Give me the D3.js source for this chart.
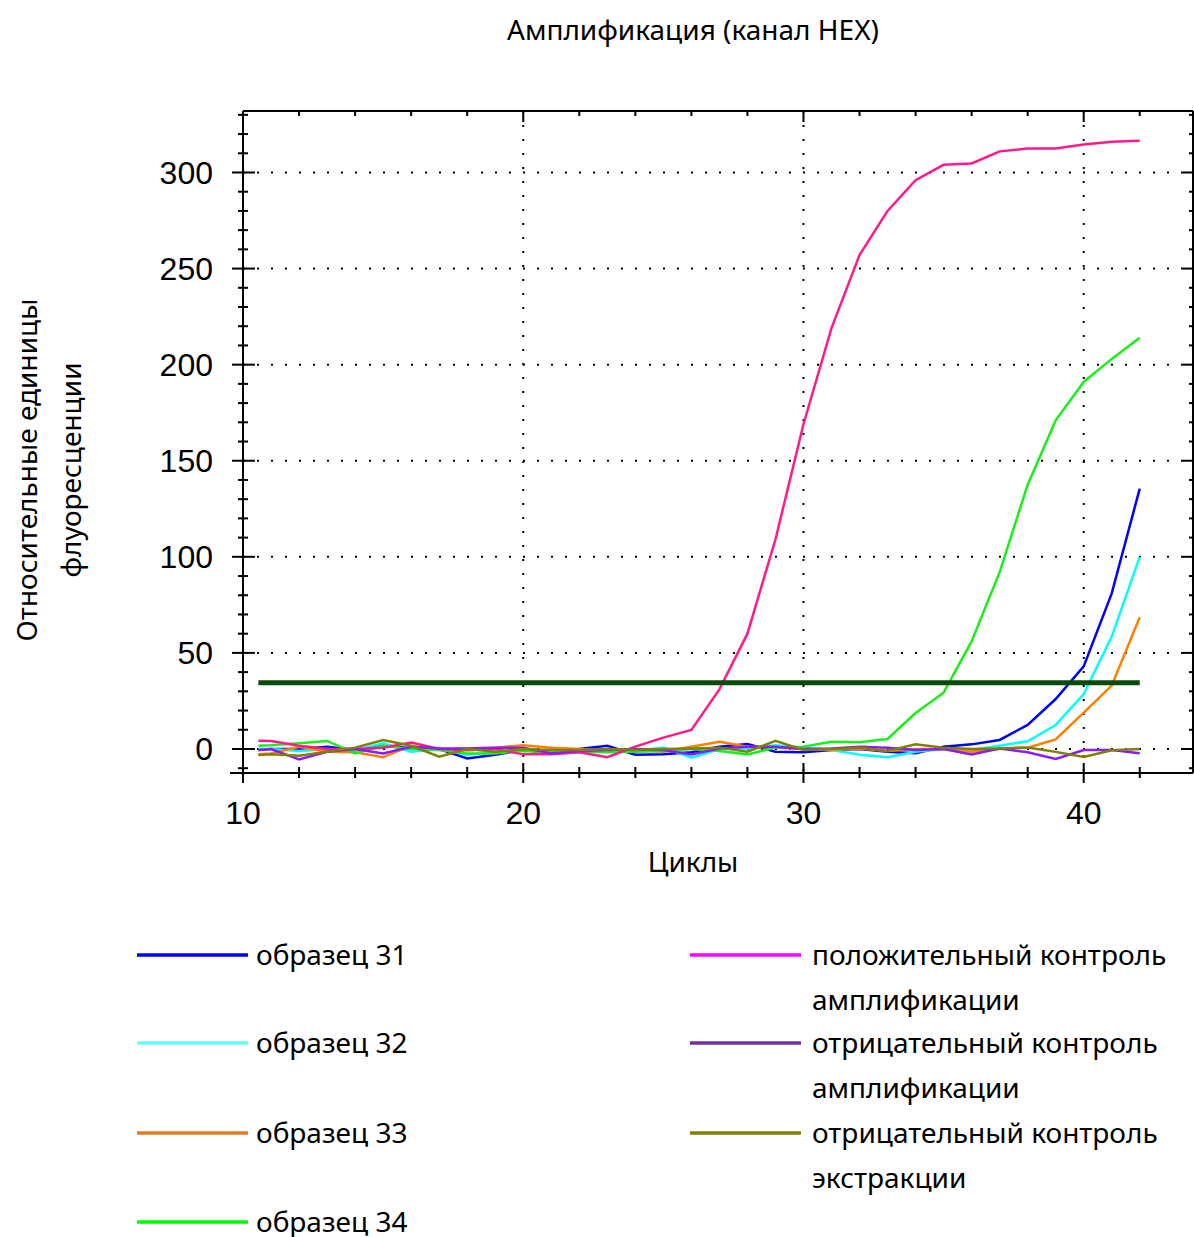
<!DOCTYPE html>
<html>
<head>
<meta charset="utf-8">
<script src="https://cdn.jsdelivr.net/npm/d3@7"></script>
<style>
  body { margin: 0; background: #fff; }
  svg { display: block; }
  .txt { font-family: "Noto Sans", sans-serif; fill: #000; }
  .tick-lbl { font-family: "Liberation Sans", Arial, sans-serif; fill: #000; }
</style>
</head>
<body>
<div id="chart"></div>
<script>
var cycles = [10.55, 11, 12, 13, 14, 15, 16, 17, 18, 19, 20, 21, 22, 23, 24, 25, 26,
              27, 28, 29, 30, 31, 32, 33, 34, 35, 36, 37, 38, 39, 40, 41, 42];

var sample31 = [-0.5, 0, 0, 1.2, -0.5, 2, 0.3, 0, -4.9, -3, -0.5, -2.3, 0, 1.7, -3, -2.8, -1.7,
                1.2, 2.6, -1.4, -1.7, -0.5, 0, -1.4, -2.2, 1.2, 2.4, 4.7, 12.5, 26, 43, 81, 135.5];
var sample32 = [0, 0, -1, 0, -0.5, 3, -1.4, 0, -3, -1.7, -0.5, -1, -1.4, 0, -1, 0.7, -4.5,
                0, 0.3, 2, 0.7, -0.5, -3, -4.3, -1.4, 0, -0.5, 1.7, 4, 12.5, 28.6, 58.5, 100];
var sample33 = [-2.8, -2.3, 1.2, -1.4, -1.7, -4.3, 1.7, -0.5, 0.3, 0.7, 2, 0.7, 0, -1, -0.5, -1.4, 1.2,
                3.8, 1.2, 0.7, 0, -0.5, 0.3, -1, 0, 0, -1.4, 0, 0.7, 5, 18.9, 33, 68.5];
var sample34 = [1.7, 2, 3, 4.2, -2.3, 1.7, 0, -0.5, -2.3, -2.3, -1, -1.7, -1.4, -1.7, -1.4, -1, 0,
                -1, -2.8, 0.7, 1.2, 3.8, 3.5, 5.2, 18.7, 29.3, 56, 92, 137.5, 171, 191, 203, 214];
var posControl = [4.3, 4.2, 1.7, 0, 0, 0.7, 3.3, 0, -0.7, 0, -2.8, -2.8, -1.7, -4.3, 1.2, 5.9, 9.9,
                  31, 60, 109, 169, 219, 257, 280, 296, 304, 304.7, 311, 312.5, 312.5, 314.6, 316, 316.5];
var negAmp = [-0.5, 0, -5.4, -1.4, 0, -2.3, 1.2, 0.3, 0.3, 0.7, 0.7, -2.3, -1, -0.5, 0, -0.5, -2.8,
              0.3, 1.2, 1.2, 0, 0.3, 1.2, 0.7, -0.5, 0, -2.8, 0.3, -1.7, -5.2, -0.5, -0.5, -2.2];
var negExt = [-3.1, -2.8, -3.5, -1.4, 0.7, 4.7, 1.7, -4, 0, -1.4, 0, -0.5, -0.5, 0, -0.5, 0, 0.3,
              0.7, -1.4, 4.2, -0.5, 0, 0.7, -1, 2.4, 0.7, 0, 0.3, 0.8, -1.5, -4.2, -0.7, 0];

var threshold = 34.5;

var seriesNames = ["образец 31", "образец 32", "образец 33", "образец 34",
                   "положительный контроль амплификации", "отрицательный контроль амплификации",
                   "отрицательный контроль экстракции"];
var seriesValues = [sample31, sample32, sample33, sample34, posControl, negAmp, negExt];
var lineColors = ["#0000ff", "#00ffff", "#ff8000", "#1aef1a", "#ff1a8c", "#8c1aff", "#808000"];
var legendColors = ["#0000ff", "#66ffff", "#e07b20", "#00ff00", "#ff00ff", "#7030a0", "#808000"];

var xTicks = [10, 20, 30, 40];
var yTicks = [0, 50, 100, 150, 200, 250, 300];

// note: don't name these top/left... window.top is read-only
var W = 1194, H = 1237,
    pLeft = 243, pRight = 1193, pTop = 111, pBottom = 773;

var x = d3.scaleLinear().domain([10, 43.9]).range([pLeft, pRight]);
var y = d3.scaleLinear().domain([-12.5, 332]).range([pBottom, pTop]);

var svg = d3.select("#chart").append("svg")
    .attr("width", W)
    .attr("height", H);

// title
svg.append("text").attr("class", "txt")
    .attr("x", 693).attr("y", 40)
    .attr("text-anchor", "middle")
    .style("font-size", "28px")
    .text("Амплификация (канал HEX)");

// dotted grid
var grid = svg.append("g");
grid.selectAll(".hg").data(yTicks).enter().append("line")
    .attr("x1", pLeft).attr("x2", pRight)
    .attr("y1", function(d) { return y(d); })
    .attr("y2", function(d) { return y(d); })
    .attr("stroke", "#000").attr("stroke-width", 2)
    .attr("stroke-dasharray", "2,12");
grid.selectAll(".vg").data(xTicks.slice(1)).enter().append("line")
    .attr("y1", pTop).attr("y2", pBottom)
    .attr("x1", function(d) { return x(d); })
    .attr("x2", function(d) { return x(d); })
    .attr("stroke", "#000").attr("stroke-width", 2)
    .attr("stroke-dasharray", "2,12");

// axes + ticks on all four sides
var yMinor = d3.range(-10, 331, 10);
var xMinor = d3.range(12, 43, 2);

var axisG = svg.append("g").attr("stroke", "#000").attr("stroke-width", 2);
axisG.append("line").attr("x1", pLeft).attr("x2", pLeft).attr("y1", pTop).attr("y2", pBottom + 10);
axisG.append("line").attr("x1", pLeft - 13).attr("x2", pRight).attr("y1", pBottom).attr("y2", pBottom);
axisG.append("line").attr("x1", pLeft).attr("x2", pRight).attr("y1", pTop).attr("y2", pTop);
axisG.append("line").attr("x1", pRight).attr("x2", pRight).attr("y1", pTop).attr("y2", pBottom);

axisG.selectAll(".ly").data(yMinor).enter().append("line")
    .attr("x1", function(d) { return d % 50 === 0 ? pLeft - 11 : pLeft - 5; })
    .attr("x2", function(d) { return d % 50 === 0 ? pLeft + 12 : pLeft + 5; })
    .attr("y1", function(d) { return y(d); })
    .attr("y2", function(d) { return y(d); });
axisG.selectAll(".ry").data(yMinor).enter().append("line")
    .attr("x1", function(d) { return d % 50 === 0 ? pRight - 10 : pRight - 4; })
    .attr("x2", pRight)
    .attr("y1", function(d) { return y(d); })
    .attr("y2", function(d) { return y(d); });
axisG.selectAll(".bx").data(xMinor).enter().append("line")
    .attr("x1", function(d) { return x(d); })
    .attr("x2", function(d) { return x(d); })
    .attr("y1", function(d) { return d % 10 === 0 ? pBottom - 10 : pBottom - 6; })
    .attr("y2", function(d) { return d % 10 === 0 ? pBottom + 10 : pBottom + 5; });
axisG.selectAll(".tx").data(xMinor).enter().append("line")
    .attr("x1", function(d) { return x(d); })
    .attr("x2", function(d) { return x(d); })
    .attr("y1", pTop)
    .attr("y2", function(d) { return d % 10 === 0 ? pTop + 11 : pTop + 5; });

// tick labels
svg.selectAll(".yl").data(yTicks).enter().append("text")
    .attr("class", "tick-lbl")
    .attr("x", 213)
    .attr("y", function(d) { return y(d) + 11.5; })
    .attr("text-anchor", "end")
    .style("font-size", "32px")
    .text(function(d) { return d; });
svg.selectAll(".xl").data(xTicks).enter().append("text")
    .attr("class", "tick-lbl")
    .attr("x", function(d) { return x(d); })
    .attr("y", 824)
    .attr("text-anchor", "middle")
    .style("font-size", "32px")
    .text(function(d) { return d; });

// axis titles
svg.append("text").attr("class", "txt")
    .attr("x", 693).attr("y", 872)
    .attr("text-anchor", "middle")
    .style("font-size", "28px")
    .text("Циклы");
var yTitle = svg.append("text").attr("class", "txt")
    .attr("transform", "translate(0,470) rotate(-90)")
    .attr("text-anchor", "middle")
    .style("font-size", "28px");
yTitle.append("tspan").attr("x", 0).attr("y", 37).text("Относительные единицы");
yTitle.append("tspan").attr("x", 0).attr("y", 81).text("флуоресценции");

// curves
var line = d3.line()
    .x(function(d, i) { return x(cycles[i]); })
    .y(function(d) { return y(d); })
    .curve(d3.curveLinear);

svg.append("g").selectAll("path").data(seriesValues).enter().append("path")
    .attr("d", function(d) { return line(d); })
    .attr("fill", "none")
    .attr("stroke", function(d, i) { return lineColors[i]; })
    .attr("stroke-width", 2.5);

// threshold
svg.append("line")
    .attr("x1", x(cycles[0])).attr("x2", x(cycles[cycles.length - 1]))
    .attr("y1", y(threshold)).attr("y2", y(threshold))
    .attr("stroke", "#0a4a0a").attr("stroke-width", 5);

// legend, two columns
var legendPos = [
    {lx: 137, ly: 955}, {lx: 137, ly: 1043}, {lx: 137, ly: 1133}, {lx: 137, ly: 1222},
    {lx: 690, ly: 955}, {lx: 690, ly: 1043}, {lx: 690, ly: 1133}
];
var lg = svg.append("g").selectAll("g").data(seriesNames).enter().append("g");
lg.append("line")
    .attr("x1", function(d, i) { return legendPos[i].lx; })
    .attr("x2", function(d, i) { return legendPos[i].lx + 111; })
    .attr("y1", function(d, i) { return legendPos[i].ly; })
    .attr("y2", function(d, i) { return legendPos[i].ly; })
    .attr("stroke", function(d, i) { return legendColors[i]; })
    .attr("stroke-width", 3.5);
lg.each(function(d, i) {
    var t = d3.select(this).append("text").attr("class", "txt")
        .style("font-size", "28px");
    var words = d.split(" ");
    var lines = i < 4 ? [d] : [words.slice(0, 2).join(" "), words.slice(2).join(" ")];
    lines.forEach(function(s, k) {
        t.append("tspan")
            .attr("x", legendPos[i].lx + (i < 4 ? 119 : 122))
            .attr("y", legendPos[i].ly + 10 + k * 45)
            .text(s);
    });
});
</script>
</body>
</html>
